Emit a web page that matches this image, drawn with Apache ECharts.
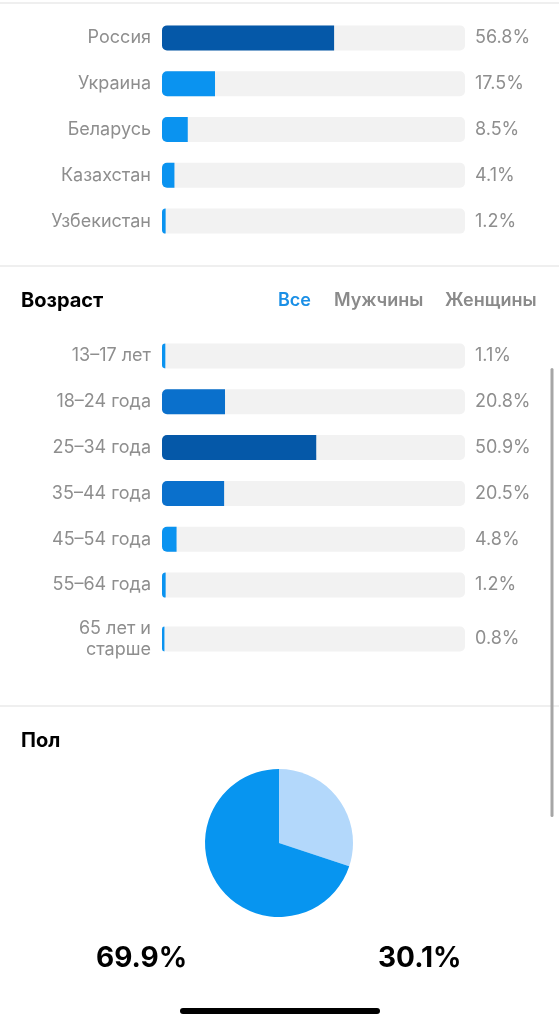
<!DOCTYPE html>
<html>
<head>
<meta charset="utf-8">
<style>
html,body{margin:0;padding:0;background:#fff;}
#c{width:559px;height:1024px;}
</style>
<script src="https://cdn.jsdelivr.net/npm/echarts@6/dist/echarts.min.js"></script>
</head>
<body>
<div id="c"></div>
<script>
const countryCats = ['Россия', 'Украина', 'Беларусь', 'Казахстан', 'Узбекистан'];
const countryVals = [56.8, 17.5, 8.5, 4.1, 1.2];
const ageCats = ['13–17 лет', '18–24 года', '25–34 года', '35–44 года', '45–54 года', '55–64 года', '65 лет и\nстарше'];
const ageVals = [1.1, 20.8, 50.9, 20.5, 4.8, 1.2, 0.8];
const genderCats = ['Мужчины', 'Женщины'];
const genderVals = [69.9, 30.1];
const ageTabs = ['Все', 'Мужчины', 'Женщины'];

const FONT = 'Inter, Roboto, sans-serif';
const GRAY = '#8e8e8e';
const TRACK = '#f2f2f2';
function barColor(v) {
  if (v >= 40) return '#0558a8';
  if (v >= 20) return '#0a70cc';
  return '#0a93f0';
}

const chart = echarts.init(document.getElementById('c'), null, {renderer: 'canvas'});

const grids = [
  {left: 162, width: 303, top: 15, height: 229},
  {left: 162, width: 303, top: 333, height: 275},
  {left: 162, width: 303, top: 616, height: 46}
];
const groups = [
  {cats: countryCats, vals: countryVals},
  {cats: ageCats.slice(0, 6), vals: ageVals.slice(0, 6)},
  {cats: ageCats.slice(6), vals: ageVals.slice(6)}
];

const xAxis = [], yAxis = [], series = [];
groups.forEach((g, i) => {
  xAxis.push({gridIndex: i, type: 'value', min: 0, max: 100, show: false});
  yAxis.push({
    gridIndex: i, type: 'category', inverse: true, data: g.cats,
    axisLine: {show: false}, axisTick: {show: false}, splitLine: {show: false},
    axisLabel: {color: GRAY, fontSize: 18, fontFamily: FONT, margin: 11, lineHeight: 21, align: 'right'}
  });
  series.push({
    type: 'bar', xAxisIndex: i, yAxisIndex: i, silent: true,
    data: g.vals.map(() => 100), barWidth: 25, barGap: '-100%',
    itemStyle: {color: TRACK, borderRadius: 5},
    label: {
      show: true, position: 'right', distance: 10, color: GRAY, fontSize: 18, fontFamily: FONT,
      formatter: p => g.vals[p.dataIndex].toFixed(1) + '%'
    },
    z: 1
  });
  series.push({
    type: 'bar', xAxisIndex: i, yAxisIndex: i, silent: true,
    data: g.vals, barWidth: 25, barGap: '-100%',
    itemStyle: {color: p => barColor(p.value), borderRadius: [5, 0, 0, 5]},
    z: 2
  });
});

series.push({
  type: 'pie', center: [279, 843], radius: 74, startAngle: 90, clockwise: true, silent: true,
  label: {show: false}, labelLine: {show: false},
  data: [
    {name: genderCats[1], value: genderVals[1], itemStyle: {color: '#b3d8fb'}},
    {name: genderCats[0], value: genderVals[0], itemStyle: {color: '#0795f0'}}
  ]
});

const tabX = [278, 334, 445];
const graphic = [
  {type: 'rect', shape: {x: 0, y: 2, width: 559, height: 2}, style: {fill: '#efefef'}},
  {type: 'rect', shape: {x: 0, y: 265, width: 559, height: 2}, style: {fill: '#efefef'}},
  {type: 'rect', shape: {x: 0, y: 705, width: 559, height: 2}, style: {fill: '#efefef'}},
  {type: 'text', left: 21, top: 291, style: {text: 'Возраст', fill: '#000', font: 'bold 20px ' + FONT}},
  {type: 'text', left: 21, top: 731, style: {text: 'Пол', fill: '#000', font: 'bold 20px ' + FONT}},
  {type: 'rect', shape: {x: 550.5, y: 368, width: 3, height: 449, r: 1.5}, style: {fill: '#a6a6a6'}},
  {type: 'rect', shape: {x: 180, y: 1008, width: 200, height: 6, r: 3}, style: {fill: '#000'}}
];
ageTabs.forEach((t, i) => {
  graphic.push({type: 'text', left: tabX[i], top: 292,
    style: {text: t, fill: i === 0 ? '#1a8fe6' : '#8a8a8a', font: '600 18px ' + FONT}});
});
const pctX = [96, 378];
genderVals.forEach((v, i) => {
  graphic.push({type: 'text', left: pctX[i], top: 945,
    style: {text: v.toFixed(1) + '%', fill: '#000', font: 'bold 28px ' + FONT}});
});

chart.setOption({
  animation: false,
  grid: grids,
  xAxis: xAxis,
  yAxis: yAxis,
  series: series,
  graphic: graphic
});
</script>
</body>
</html>
